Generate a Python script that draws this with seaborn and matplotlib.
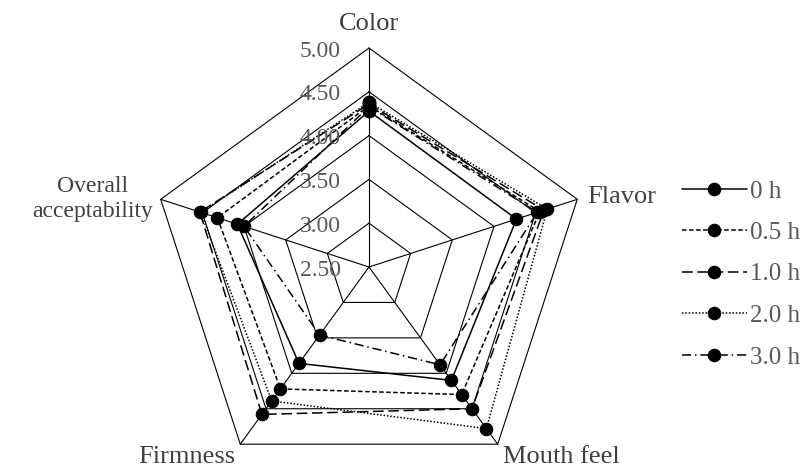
import numpy as np
import pandas as pd
import matplotlib
matplotlib.use("Agg")
import matplotlib.pyplot as plt
import seaborn as sns

categories = ["Color", "Flavor", "Mouth feel", "Firmness", "Overall\nacceptability"]
series_names = ["0 h", "0.5 h", "1.0 h", "2.0 h", "3.0 h"]
v_0h = [4.28, 4.27, 4.10, 3.86, 4.08]
v_05h = [4.34, 4.55, 4.30, 4.22, 4.32]
v_10h = [4.36, 4.60, 4.50, 4.58, 4.53]
v_20h = [4.38, 4.64, 4.78, 4.39, 4.52]
v_30h = [4.33, 4.52, 3.88, 3.46, 4.00]
ring_values = [3.00, 3.50, 4.00, 4.50, 5.00]
tick_values = [2.50, 3.00, 3.50, 4.00, 4.50, 5.00]
r_min, r_max = 2.50, 5.00

sns.set_theme(style="white")
plt.rcParams["font.family"] = ["Liberation Serif", "DejaVu Serif"]

n = len(categories)
theta = np.linspace(0, 2 * np.pi, n, endpoint=False)
theta_closed = np.append(theta, 2 * np.pi)

rows = []
for name, vals in zip(series_names, [v_0h, v_05h, v_10h, v_20h, v_30h]):
    vv = list(vals) + [vals[0]]
    for t, v in zip(theta_closed, vv):
        rows.append({"theta": t, "value": v, "time": name})
df = pd.DataFrame(rows)

fig = plt.figure(figsize=(8.03, 4.67), dpi=100)
ax = fig.add_axes([150 / 803, -19 / 467, 438 / 803, 438 / 467], projection="polar")
ax.set_theta_offset(np.pi / 2)
ax.set_theta_direction(-1)
ax.set_ylim(r_min, r_max)
ax.grid(False)
ax.spines["polar"].set_visible(False)
ax.set_xticks([])
ax.set_yticks([])
ax.set_facecolor("none")

# pentagon rings and spokes
for rv in ring_values:
    ax.plot(theta_closed, [rv] * (n + 1), color="black", lw=0.8, zorder=1, clip_on=False)
for t in theta:
    ax.plot([t, t], [r_min, r_max], color="black", lw=0.8, zorder=1, clip_on=False)

dashes = {"0 h": "", "0.5 h": (3, 1.6), "1.0 h": (7, 3), "2.0 h": (1, 1.2), "3.0 h": (6, 2.5, 1, 2.5)}
markers = {s: "o" for s in series_names}
sns.lineplot(data=df, x="theta", y="value", hue="time", style="time",
             palette=["black"] * 5, dashes=dashes, markers=markers,
             sort=False, estimator=None, markersize=9, linewidth=1.1,
             markeredgecolor="black", ax=ax, zorder=3, clip_on=False)
ax.set_xlabel("")
ax.set_ylabel("")
ax.set_ylim(r_min, r_max)

# radial tick labels along Color axis
for tv in tick_values:
    ax.annotate(f"{tv:.2f}", xy=(0, tv), xytext=(-28, -3), textcoords="offset pixels",
                ha="right", va="center", fontsize=17, color="#595959", annotation_clip=False)

# category labels
label_offsets = {0: (0, 13, "center", "bottom", 19), 1: (10, 2, "left", "center", 19),
                 2: (5, -2, "left", "top", 19), 3: (-5, -2, "right", "top", 19),
                 4: (-8, 0, "right", "center", 17)}
for i, cat in enumerate(categories):
    dx, dy, ha, va, fs = label_offsets[i]
    ax.annotate(cat, xy=(theta[i], r_max), xytext=(dx, dy), textcoords="offset pixels",
                ha=ha, va=va, fontsize=fs, color="#404040", annotation_clip=False,
                multialignment="center", linespacing=1.25)

sns.move_legend(ax, "upper left", bbox_to_anchor=(682 / 803, 1 - 180 / 467),
                bbox_transform=fig.transFigure, frameon=False, title=None,
                handlelength=2.6, handletextpad=0.12, labelspacing=0.76,
                borderpad=0, borderaxespad=0, fontsize=18, labelcolor="#595959")

fig.savefig("out.png", dpi=100)
